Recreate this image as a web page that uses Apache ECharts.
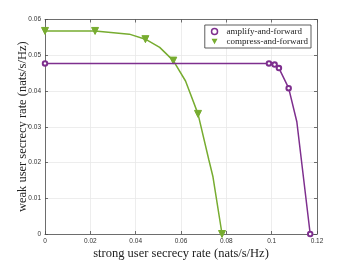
<!DOCTYPE html>
<html><head><meta charset="utf-8">
<script src="https://cdn.jsdelivr.net/npm/echarts@6/dist/echarts.min.js"></script>
<style>html,body{margin:0;padding:0;background:#fff}#c{width:350px;height:263px}</style>
</head><body><div id="c"></div>
<script>
// Data
const afX = [0, 0.0988, 0.1013, 0.1032, 0.1075, 0.1111, 0.1170];
const afY = [0.0477, 0.0477, 0.0474, 0.0464, 0.0408, 0.0314, 0];
const afMarker = [1, 1, 1, 1, 1, 0, 1];
const cfX = [0, 0.0221, 0.0372, 0.0443, 0.0506, 0.0566, 0.0620, 0.0675, 0.0723, 0.0741, 0.0781];
const cfY = [0.0568, 0.0568, 0.0559, 0.0545, 0.0522, 0.0485, 0.0428, 0.0336, 0.0207, 0.0160, 0];
const cfMarker = [1, 1, 0, 1, 0, 1, 0, 1, 0, 0, 1];
const xTicks = [0, 0.02, 0.04, 0.06, 0.08, 0.1, 0.12];
const yTicks = [0, 0.01, 0.02, 0.03, 0.04, 0.05, 0.06];
const seriesNames = ['amplify-and-forward', 'compress-and-forward'];

const purple = '#7E2F8E', green = '#77AC30';
const axisCol = '#4d4d4d';
const fmt = v => String(+(+v).toFixed(4));

function pts(xs, ys, flags) {
  return xs.map((x, i) => flags[i] ? [x, ys[i]] : {value: [x, ys[i]], symbol: 'none'});
}

const chart = echarts.init(document.getElementById('c'), null, {renderer: 'canvas'});
const baseAxis = {
  axisLine: {show: true, onZero: false, lineStyle: {color: axisCol, width: 0.8}},
  axisTick: {show: true, inside: true, length: 3, lineStyle: {color: axisCol, width: 0.8}},
};
chart.setOption({
  animation: false,
  grid: {left: 45, right: 33, top: 19.5, bottom: 29, containLabel: false, outerBoundsMode: 'none'},
  legend: {
    orient: 'vertical', right: 39, top: 25,
    backgroundColor: '#fff', borderColor: '#333', borderWidth: 0.8,
    padding: [2, 3, 2, 6], itemGap: 1, itemWidth: 6, itemHeight: 6,
    textStyle: {fontFamily: 'Liberation Serif', fontSize: 9, color: '#222', padding: [0, 0, 0, 4]},
    data: [
      {name: seriesNames[0], icon: 'circle', itemStyle: {color: '#fff', borderColor: purple, borderWidth: 1.5}},
      {name: seriesNames[1], icon: 'path://M0,0L10,0L5,9Z', itemStyle: {color: green, borderColor: green, borderWidth: 0}}
    ]
  },
  xAxis: [
    Object.assign({}, baseAxis, {
      type: 'value', min: 0, max: 0.12, interval: 0.02,
      name: 'strong user secrecy rate (nats/s/Hz)', nameLocation: 'middle', nameGap: 13, nameMoveOverlap: false,
      nameTextStyle: {fontFamily: 'Liberation Serif', fontSize: 12.5, color: '#222'},
      axisLabel: {formatter: fmt, fontSize: 6.5, color: '#333', margin: 4, fontFamily: 'Liberation Sans'},
      splitLine: {show: true, lineStyle: {color: '#e8e8e8', width: 0.8}}
    }),
    Object.assign({}, baseAxis, {
      type: 'value', position: 'top', min: 0, max: 0.12, interval: 0.02,
      axisLabel: {show: false}, splitLine: {show: false}
    })
  ],
  yAxis: [
    Object.assign({}, baseAxis, {
      type: 'value', min: 0, max: 0.06, interval: 0.01,
      name: 'weak user secrecy rate (nats/s/Hz)', nameLocation: 'middle', nameGap: 16, nameMoveOverlap: false,
      nameTextStyle: {fontFamily: 'Liberation Serif', fontSize: 12.5, color: '#222'},
      axisLabel: {formatter: fmt, fontSize: 6.5, color: '#333', margin: 4, fontFamily: 'Liberation Sans'},
      splitLine: {show: true, lineStyle: {color: '#e8e8e8', width: 0.8}}
    }),
    Object.assign({}, baseAxis, {
      type: 'value', position: 'right', min: 0, max: 0.06, interval: 0.01,
      axisLabel: {show: false}, splitLine: {show: false}
    })
  ],
  series: [
    {
      name: seriesNames[0], type: 'line', xAxisIndex: 0, yAxisIndex: 0,
      data: pts(afX, afY, afMarker),
      lineStyle: {color: purple, width: 1.5},
      symbol: 'emptyCircle', symbolSize: 4.5,
      itemStyle: {color: purple, borderColor: purple, borderWidth: 1.5},
      showAllSymbol: true, z: 3
    },
    {
      name: seriesNames[1], type: 'line', xAxisIndex: 0, yAxisIndex: 0,
      data: pts(cfX, cfY, cfMarker),
      lineStyle: {color: green, width: 1.5},
      symbol: 'triangle', symbolRotate: 180, symbolSize: 7,
      itemStyle: {color: green, borderColor: green},
      showAllSymbol: true, z: 2
    }
  ]
});
</script></body></html>
